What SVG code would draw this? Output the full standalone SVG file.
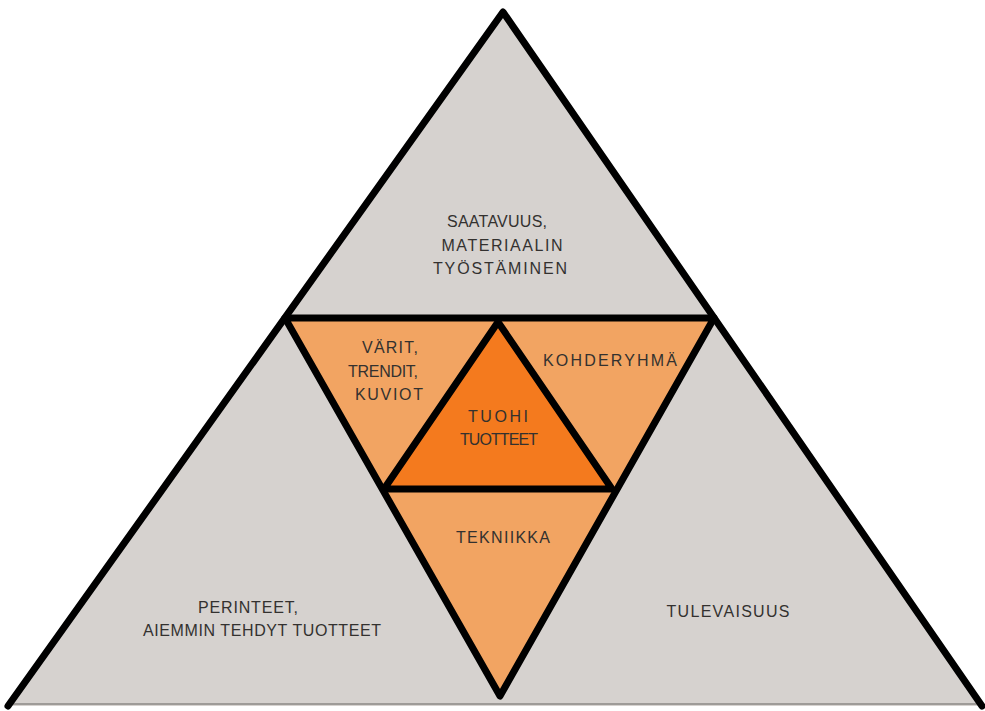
<svg xmlns="http://www.w3.org/2000/svg" width="985" height="711" viewBox="0 0 985 711">
<style>
.lbl{font-family:"Liberation Sans","DejaVu Sans",sans-serif;font-size:16px;fill:#33312f;text-anchor:middle}
.edge{stroke:#000;stroke-width:7;stroke-linejoin:round;stroke-linecap:round;fill:none}
</style>
<rect width="985" height="711" fill="#ffffff"/>
<g id="outer">
<polygon points="503,12 8,706 982,706" fill="#d6d2cf"/>
<line x1="8" y1="704" x2="982" y2="704" stroke="#9e9b98" stroke-width="2"/>
</g>
<g id="inner">
<polygon points="285,318 714,318 500,696" fill="#f2a462"/>
</g>
<g id="center">
<polygon points="498,322 384,489 612,489" fill="#f47a1e"/>
</g>
<g id="connectors">
<polyline class="edge" points="8,706 503,12 982,706"/>
<polygon class="edge" points="285,318 714,318 500,696"/>
<polygon class="edge" points="498,322 384,489 612,489"/>
</g>
<g id="top-label">
<text class="lbl" x="497" y="227" textLength="100" lengthAdjust="spacing">SAATAVUUS,</text>
<text class="lbl" x="502" y="251" textLength="121" lengthAdjust="spacing">MATERIAALIN</text>
<text class="lbl" x="500" y="274" textLength="134" lengthAdjust="spacing">TYÖSTÄMINEN</text>
</g>
<g id="left-inner-label">
<text class="lbl" x="390" y="353" textLength="56" lengthAdjust="spacing">VÄRIT,</text>
<text class="lbl" x="383" y="377" textLength="70" lengthAdjust="spacing">TRENDIT,</text>
<text class="lbl" x="389" y="400" textLength="68" lengthAdjust="spacing">KUVIOT</text>
</g>
<g id="right-inner-label">
<text class="lbl" x="610" y="366" textLength="134" lengthAdjust="spacing">KOHDERYHMÄ</text>
</g>
<g id="center-label">
<text class="lbl" x="498" y="422" textLength="60" lengthAdjust="spacing">TUOHI</text>
<text class="lbl" x="499" y="445" textLength="78" lengthAdjust="spacing">TUOTTEET</text>
</g>
<g id="bottom-inner-label">
<text class="lbl" x="503" y="543" textLength="94" lengthAdjust="spacing">TEKNIIKKA</text>
</g>
<g id="left-label">
<text class="lbl" x="248" y="613" textLength="100" lengthAdjust="spacing">PERINTEET,</text>
<text class="lbl" x="262" y="636" textLength="238" lengthAdjust="spacing">AIEMMIN TEHDYT TUOTTEET</text>
</g>
<g id="right-label">
<text class="lbl" x="728" y="617" textLength="123" lengthAdjust="spacing">TULEVAISUUS</text>
</g>
</svg>
